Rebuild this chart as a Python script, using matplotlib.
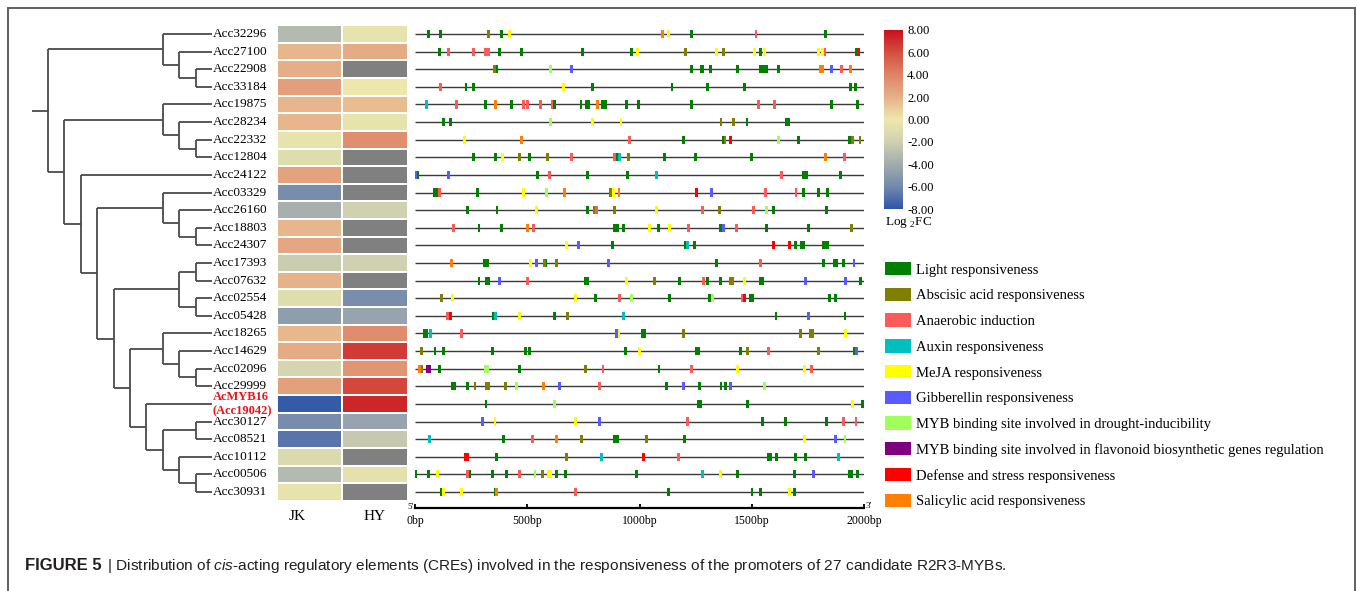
import numpy as np
import matplotlib
matplotlib.use('Agg')
import matplotlib.pyplot as plt
from matplotlib import font_manager
from matplotlib.colors import LinearSegmentedColormap, Normalize
from matplotlib.cm import ScalarMappable
from matplotlib.patches import Patch
from matplotlib.lines import Line2D

plt.rcParams['font.family'] = 'Liberation Serif'
plt.rcParams['mathtext.fontset'] = 'custom'
plt.rcParams['mathtext.rm'] = 'Liberation Sans'
plt.rcParams['mathtext.it'] = 'Liberation Sans:italic'

# genes in the order of the tree leaves (top to bottom)
genes = ['Acc32296', 'Acc27100', 'Acc22908', 'Acc33184', 'Acc19875', 'Acc28234',
         'Acc22332', 'Acc12804', 'Acc24122', 'Acc03329', 'Acc26160', 'Acc18803',
         'Acc24307', 'Acc17393', 'Acc07632', 'Acc02554', 'Acc05428', 'Acc18265',
         'Acc14629', 'Acc02096', 'Acc29999', 'Acc19042', 'Acc30127', 'Acc08521',
         'Acc10112', 'Acc00506', 'Acc30931']

# log2FC, nan = not detected (grey)
nan = np.nan
jk = [-3.2, 1.8, 2.1, 2.8, 1.8, 1.8, -0.4, -1.0, 2.6, -5.8, -3.8, 1.8, 2.4, -2.2,
      1.9, -1.0, -4.8, 1.7, 2.2, -1.6, 2.7, -7.8, -5.8, -6.8, -1.2, -3.2, -0.4]
hy = [-0.5, 2.2, nan, 0.0, 1.5, -0.5, 3.5, nan, nan, nan, -2.0, nan, nan, -2.0,
      nan, -5.7, -4.5, 3.6, 6.6, 3.2, 6.2, 7.3, -4.5, -2.4, nan, -0.6, nan]

# dendrogram topology
tree = (('Acc32296', ('Acc27100', ('Acc22908', 'Acc33184'))),
        (('Acc19875', ('Acc28234', ('Acc22332', 'Acc12804'))),
         ('Acc24122',
          (('Acc03329', ('Acc26160', ('Acc18803', 'Acc24307'))),
           ((('Acc17393', 'Acc07632'), ('Acc02554', 'Acc05428')),
            (('Acc18265', ('Acc14629', ('Acc02096', 'Acc29999'))),
             ('Acc19042', (('Acc30127', 'Acc08521'),
                           ('Acc10112', ('Acc00506', 'Acc30931'))))))))))

# cis-element positions (bp from 5' end), keyed by row index
light = {0: [59, 114, 383, 1229, 1828],
         1: [108, 378, 473, 746, 965, 1537, 1966],
         2: [365, 1231, 1273, 1282, 1315, 1435, 1537, 1551, 1565, 1617],
         3: [227, 260, 789, 1144, 1301, 1467, 1939, 1962],
         4: [312, 430, 620, 739, 764, 774, 836, 846, 942, 994, 1230, 1853, 1969],
         5: [126, 160, 1478, 1654, 1664],
         6: [1197, 1371, 1709, 1933],
         7: [260, 359, 510, 898, 1111, 1248, 1499],
         8: [12, 545, 769, 947, 1731, 1741, 1895],
         9: [86, 98, 279, 1729, 1797, 1838],
         10: [233, 365, 766, 1597, 1831],
         11: [285, 383, 890, 900, 930, 1082, 1359, 1564, 1751],
         12: [880, 1205, 1245, 1693, 1721, 1731, 1816, 1826, 1836],
         13: [311, 321, 583, 1343, 1818, 1866, 1876, 1907],
         14: [285, 318, 328, 757, 767, 1177, 1303, 1359, 1537, 1547, 1985],
         15: [803, 1132, 1309, 1494, 1504, 1847, 1872],
         16: [348, 619, 1607, 1914],
         17: [40, 50, 1011, 1021],
         18: [89, 126, 344, 490, 509, 935, 1252, 1262, 1447, 1956],
         19: [111, 464, 1086],
         20: [166, 176, 233, 1119, 1267, 1362, 1381],
         21: [316, 1263, 1272, 1481, 1990],
         22: [1545, 1650, 1831],
         23: [392, 890, 900, 1199],
         24: [364, 1572, 1582, 1611, 1694, 1739],
         25: [4, 59, 242, 346, 408, 631, 668, 987, 1435, 1691, 1933, 1943, 1969],
         26: [116, 356, 1129, 1500, 1537, 1688]}
aba = {0: [329], 1: [1205, 1374], 2: [355], 5: [1362, 1417], 6: [1380, 1948, 1981],
       7: [466, 591, 950], 9: [871], 10: [798, 886, 1356], 11: [1944], 13: [575, 631],
       14: [1068, 1405, 1415], 15: [119], 16: [678], 17: [1194, 1714, 1761, 1771],
       18: [30, 1482, 1797], 19: [27, 758], 20: [267, 317, 327, 401], 23: [742, 1031],
       24: [675], 25: [568]}
anaerobic = {0: [1518], 1: [151, 260, 312, 326, 1825], 2: [1898], 3: [114],
             4: [183, 482, 502, 559, 610, 1531, 1602], 6: [954], 7: [697, 887, 1911],
             8: [597, 1632], 9: [110, 1562, 1696], 10: [809, 1280, 1505],
             11: [171, 528, 1218, 1432], 13: [1539], 14: [500, 1286], 15: [912, 1457],
             16: [144], 17: [205], 18: [1574], 19: [837, 1229, 1767], 20: [822],
             22: [1215, 1908, 1963], 23: [524], 24: [1172], 25: [233, 467], 26: [715]}
auxin = {4: [52], 7: [910], 8: [1073], 12: [1215], 16: [358, 929], 17: [71],
         23: [64], 24: [831, 1884], 25: [1279]}
meja = {0: [420, 1128], 1: [990, 1344, 1513, 1555, 1795, 1813], 3: [660], 5: [791, 917],
        6: [220], 7: [389], 9: [482, 883], 10: [539, 1073], 11: [1043, 1134], 12: [675],
        13: [516], 14: [942, 1466], 15: [166, 715], 16: [467], 17: [907, 1918], 18: [999],
        19: [1436, 1733], 21: [1947], 22: [356, 715], 23: [1735],
        25: [99, 594, 603, 1361], 26: [126, 208, 1669]}
gibberellin = {2: [697, 1852], 8: [4, 151], 9: [1318], 11: [1375], 12: [727],
               13: [540, 861, 1954], 14: [375, 1739, 1918], 16: [1751], 17: [895],
               18: [1965], 20: [644, 1196, 1405], 22: [300, 822], 23: [1871], 25: [1775]}
myb_drought = {2: [605], 5: [605], 6: [1619], 9: [585], 10: [1565], 15: [965, 1325],
               19: [312, 321], 20: [450, 1556], 21: [620], 23: [1914], 25: [534]}
myb_flavonoid = {19: [54, 64]}
defense = {1: [1975], 6: [1405], 9: [1254], 12: [1594, 1669], 15: [1466], 16: [156],
           24: [225, 235, 1018]}
salicylic = {0: [1102], 2: [1803, 1815, 1938], 4: [358, 813], 6: [475], 7: [1829],
             9: [665, 908], 11: [500], 13: [163], 19: [18], 20: [571], 23: [628], 26: [362]}

categories = ['Light responsiveness', 'Abscisic acid responsiveness', 'Anaerobic induction',
              'Auxin responsiveness', 'MeJA responsiveness', 'Gibberellin responsiveness',
              'MYB binding site involved in drought-inducibility',
              'MYB binding site involved in flavonoid biosynthetic genes regulation',
              'Defense and stress responsiveness', 'Salicylic acid responsiveness']
cat_sites = [light, aba, anaerobic, auxin, meja, gibberellin, myb_drought,
             myb_flavonoid, defense, salicylic]
cat_colors = ['#007f00', '#7f7f00', '#ff5a5a', '#00bfbf', '#ffff00', '#5a5aff',
              '#a0ff5a', '#7f007f', '#ff0000', '#ff7f00']

W, H = 1357, 591
fig = plt.figure(figsize=(W / 100, H / 100), dpi=100)


def px_axes(x0, y0, x1, y1):
    return fig.add_axes([x0 / W, 1 - y1 / H, (x1 - x0) / W, (y1 - y0) / H])


n = len(genes)
row_of = {g: i for i, g in enumerate(genes)}
top_px, bot_px = 25.2, 500.8
ylim = (n - 0.5, -0.5)

# ---- dendrogram
ax_t = px_axes(31.6, top_px, 212, bot_px)
ax_t.set_xlim(-11, 0)
ax_t.set_ylim(*ylim)
ax_t.axis('off')
tc = '#4a4a4a'


def draw(node):
    if isinstance(node, str):
        return 0, row_of[node]
    res = [draw(c) for c in node]
    h = max(r[0] for r in res) + 1
    ys = [r[1] for r in res]
    ax_t.plot([-h, -h], [ys[0], ys[-1]], color=tc, lw=1.3, solid_capstyle='butt')
    for ch, cy in res:
        ax_t.plot([-h, -ch], [cy, cy], color=tc, lw=1.3, solid_capstyle='butt')
    return h, (ys[0] + ys[-1]) / 2


rh, ry = draw(tree)
ax_t.plot([-rh - 1, -rh], [ry, ry], color=tc, lw=1.3)

for i, g in enumerate(genes):
    if g == 'Acc19042':
        ax_t.text(0.06, i - 0.42, 'AcMYB16', color='#e8141c', fontweight='bold',
                  fontsize=9, va='center', ha='left', clip_on=False)
        ax_t.text(0.06, i + 0.4, '(Acc19042)', color='#e8141c', fontweight='bold',
                  fontsize=9, va='center', ha='left', clip_on=False)
    else:
        ax_t.text(0.06, i, g, fontsize=9.5, va='center', ha='left', clip_on=False)

# ---- heatmap
cmap = LinearSegmentedColormap.from_list(
    'fc', ['#2f55a8', '#7389ac', '#a2acae', '#cfd1b0', '#ede8ac',
           '#e6b088', '#de8566', '#d4503f', '#c8101e'])
cmap.set_bad('#808080')
norm = Normalize(-8, 8)
ax_h = px_axes(277, top_px, 407.5, bot_px)
vals = np.ma.masked_invalid(np.column_stack([jk, hy]))
ax_h.pcolormesh(np.arange(3), np.arange(n + 1) - 0.5, vals, cmap=cmap, norm=norm,
                edgecolors='white', linewidth=1.2)
ax_h.set_xlim(0, 2)
ax_h.set_ylim(*ylim)
ax_h.axis('off')
ax_h.text(0.31, 27.4, 'JK', fontsize=11, ha='center', va='center', clip_on=False)
ax_h.text(1.5, 27.4, 'HY', fontsize=11, ha='center', va='center', clip_on=False)

# ---- promoter tracks
ax_p = px_axes(415, top_px, 864.3, bot_px)
ax_p.set_xlim(0, 2000)
ax_p.set_ylim(*ylim)
ax_p.hlines(np.arange(n), 0, 2000, color='#3a3a3a', lw=1.0, zorder=1)
for sites, col in zip(cat_sites, cat_colors):
    for r, pos in sites.items():
        ax_p.bar(pos, 0.46, bottom=r - 0.23, width=13, color=col, lw=0, zorder=2)
for s in ['top', 'right', 'left']:
    ax_p.spines[s].set_visible(False)
ax_p.spines['bottom'].set_position(('outward', 5))
ax_p.spines['bottom'].set_linewidth(1.6)
ax_p.set_yticks([])
ax_p.set_xticks([0, 500, 1000, 1500, 2000])
ax_p.set_xticklabels(['0bp', '500bp', '1000bp', '1500bp', '2000bp'], fontsize=8.5)
ax_p.tick_params(axis='x', direction='in', length=3, width=1.3, pad=5)
ax_p.text(-22, 26.85, "5'", fontsize=6.5, ha='center', va='center', clip_on=False)
ax_p.text(2018, 26.8, "3'", fontsize=6.5, ha='center', va='center', clip_on=False)

# ---- colour bar
cax = px_axes(884, 30, 903, 209)
cb = fig.colorbar(ScalarMappable(norm=norm, cmap=cmap), cax=cax)
cb.outline.set_visible(False)
ticks = np.arange(-8, 9, 2)
cb.set_ticks(ticks)
cb.set_ticklabels(['%.2f' % t for t in ticks])
cax.tick_params(length=0, pad=3, labelsize=9.2)
fig.text(885 / W, 1 - 223 / H, r'Log $_{\mathregular{2}}$FC', fontsize=9.5,
         ha='left', va='center')

# ---- legend
handles = [Patch(facecolor=c, edgecolor='none') for c in cat_colors]
fig.legend(handles, categories, loc='upper left', bbox_to_anchor=(885 / W, 1 - 262 / H),
           frameon=False, fontsize=10.5, handlelength=1.78, handleheight=1.03,
           labelspacing=0.76, handletextpad=0.35, borderpad=0, borderaxespad=0)

# ---- frame
fc = '#606060'
fig.add_artist(Line2D([8 / W, 8 / W], [0, 1 - 8 / H], color=fc, lw=1.4))
fig.add_artist(Line2D([8 / W, 1355 / W], [1 - 8 / H, 1 - 8 / H], color=fc, lw=1.4))
fig.add_artist(Line2D([1355 / W, 1355 / W], [0, 1 - 8 / H], color=fc, lw=1.4))

# ---- caption
cap_font = 'Liberation Sans'
try:
    font_manager.findfont('Liberation Sans Narrow', fallback_to_default=False)
    cap_font = 'Liberation Sans Narrow'
except Exception:
    pass
plt.rcParams['mathtext.rm'] = cap_font
plt.rcParams['mathtext.it'] = cap_font + ':italic'
r = fig.canvas.get_renderer()
body = (r' | Distribution of $\mathit{cis}$-acting regulatory elements (CREs) involved in the '
        r'responsiveness of the promoters of 27 candidate R2R3-MYBs.')
size = 13
t1 = fig.text(25 / W, 1 - 566 / H, 'FIGURE 5', fontsize=size * 1.08, fontweight='bold',
              family=cap_font, color='#231f20', ha='left', va='center')
t2 = fig.text(0, 1 - 566 / H, body, fontsize=size, family=cap_font, color='#231f20',
              ha='left', va='center')
w = t1.get_window_extent(r).width + t2.get_window_extent(r).width
scale = 978 / w
t1.set_fontsize(size * 1.08 * scale)
t2.set_fontsize(size * scale)
w1 = t1.get_window_extent(r).width
t2.set_x((25 + w1 + 1) / W)

fig.savefig('out.png', dpi=100)
